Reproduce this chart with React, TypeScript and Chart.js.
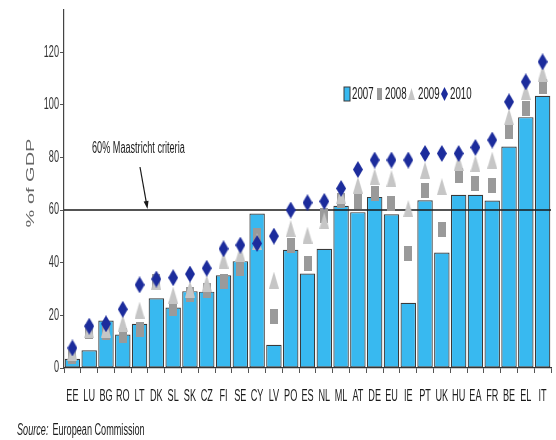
import React, { useEffect, useRef } from 'react';
import { Chart, registerables } from 'chart.js';

Chart.register(...registerables);

// Government gross debt, % of GDP, by member state
const categories = [
  'EE', 'LU', 'BG', 'RO', 'LT', 'DK', 'SL', 'SK', 'CZ', 'FI', 'SE', 'CY', 'LV', 'PO', 'ES',
  'NL', 'ML', 'AT', 'DE', 'EU', 'IE', 'PT', 'UK', 'HU', 'EA', 'FR', 'BE', 'EL', 'IT',
];
const debt2007 = [
  3.5, 6.7, 18, 12.7, 16.8, 26.5, 23, 29.2, 29, 35.2, 40.6, 58.7, 8.8, 44.9, 35.9,
  45.3, 61.6, 59.2, 65, 58.4, 24.8, 63.7, 43.9, 65.8, 65.8, 63.6, 84.1, 95.3, 103.4,
];
const debt2008 = [
  4.5, 13.7, 13.5, 12.3, 14.8, 32.8, 22.7, 28, 29.6, 32.8, 37.8, 50.5, 19.5, 46.7, 39.7,
  58, 63.5, 63.2, 66.3, 62.5, 43.5, 67.6, 52.8, 73.3, 70.1, 69.5, 89.7, 98.6, 106.8,
];
const debt2009 = [
  6, 14.5, 14.8, 17, 22, 33, 27.7, 30, 32.2, 41, 43.6, 48, 33.4, 53, 50.5,
  56, 65.5, 69.5, 72.7, 72, 60.6, 75.2, 68.9, 78, 77.7, 79, 95.4, 105, 111.9,
];
const debt2010 = [
  7.6, 15.9, 16.8, 22.3, 31.6, 33.8, 34.3, 35.7, 37.9, 45.3, 46.7, 47.3, 50.1, 60, 62.8,
  63.3, 68.2, 75.4, 79, 79, 79, 81.5, 81.5, 81.5, 83.8, 86.6, 101.1, 108.7, 116.3,
];
const seriesNames = ['2007', '2008', '2009', '2010'];
const maastrichtLimit = 60;
const yMin = 0;
const yMax = 136;
const yStep = 20;

const FONT = '"Liberation Sans", Arial, Helvetica, sans-serif';
const SQUEEZE = 0.57;
const BAR_BLUE = '#38b9f0';
const BAR_EDGE = '#3a3a3a';
const GREY_2008 = '#9a9a9a';
const GREY_2009 = '#c6c6c6';
const BLUE_2010 = '#1c2c9c';

type Shape = 'diamond' | 'triangle' | 'rect';

function makeMarker(shape: Shape, w: number, h: number, fill: string): HTMLCanvasElement {
  const c = document.createElement('canvas');
  c.width = w;
  c.height = h;
  const g = c.getContext('2d')!;
  g.fillStyle = fill;
  g.beginPath();
  if (shape === 'diamond') {
    g.moveTo(w / 2, 0);
    g.lineTo(w, h / 2);
    g.lineTo(w / 2, h);
    g.lineTo(0, h / 2);
  } else if (shape === 'triangle') {
    g.moveTo(w / 2, 0);
    g.lineTo(w, h);
    g.lineTo(0, h);
  } else {
    g.rect(0, 0, w, h);
  }
  g.closePath();
  g.fill();
  return c;
}

// Condensed text: a normal face squeezed horizontally
function squeezedText(
  ctx: CanvasRenderingContext2D,
  text: string,
  x: number,
  y: number,
  align: CanvasTextAlign,
  size = 16,
  color = '#1a1a1a',
  italic = false,
) {
  ctx.save();
  ctx.translate(x, y);
  ctx.scale(SQUEEZE, 1);
  ctx.font = `${italic ? 'italic ' : ''}${size}px ${FONT}`;
  ctx.fillStyle = color;
  ctx.textAlign = align;
  ctx.textBaseline = 'middle';
  ctx.fillText(text, 0, 0);
  const w = ctx.measureText(text).width * SQUEEZE;
  ctx.restore();
  return w;
}

const decorPlugin = {
  id: 'debtDecor',
  afterDatasetDraw(chart: any, args: any) {
    // Maastricht reference line sits over the bars but under the markers
    if (args.index !== 0) return;
    const { ctx, chartArea } = chart;
    const y = chart.scales.y.getPixelForValue(maastrichtLimit);
    ctx.save();
    ctx.strokeStyle = '#1a1a1a';
    ctx.lineWidth = 1.5;
    ctx.beginPath();
    ctx.moveTo(chartArea.left, y);
    ctx.lineTo(chartArea.right, y);
    ctx.stroke();
    ctx.restore();
  },
  afterDraw(chart: any) {
    const { ctx } = chart;
    const xs = chart.scales.x;
    const ys = chart.scales.y;

    // category labels
    const labels: string[] = chart.data.labels;
    labels.forEach((lab, i) => {
      squeezedText(ctx, lab, xs.getPixelForTick(i), 397, 'center', 16, '#1a1a1a');
    });

    // value labels
    ys.ticks.forEach((t: any) => {
      squeezedText(ctx, String(t.value), 59, ys.getPixelForValue(t.value), 'right', 16, '#333');
    });

    // axis title
    ctx.save();
    ctx.translate(31, 183);
    ctx.rotate(-Math.PI / 2);
    ctx.scale(1, SQUEEZE);
    ctx.font = `20px ${FONT}`;
    ctx.fillStyle = '#666';
    ctx.textAlign = 'center';
    ctx.textBaseline = 'middle';
    ctx.fillText('% of GDP', 0, 0);
    ctx.restore();

    // annotation with arrow
    squeezedText(ctx, '60% Maastricht criteria', 92, 149, 'left', 16, '#1a1a1a');
    const tipX = 147.5;
    const tipY = ys.getPixelForValue(maastrichtLimit) - 1;
    const fromX = 140;
    const fromY = 167;
    const ang = Math.atan2(tipY - fromY, tipX - fromX);
    ctx.save();
    ctx.strokeStyle = '#1a1a1a';
    ctx.fillStyle = '#1a1a1a';
    ctx.lineWidth = 1.2;
    ctx.beginPath();
    ctx.moveTo(fromX, fromY);
    ctx.lineTo(tipX - 6 * Math.cos(ang), tipY - 6 * Math.sin(ang));
    ctx.stroke();
    ctx.beginPath();
    ctx.moveTo(tipX, tipY);
    ctx.lineTo(tipX - 8 * Math.cos(ang) + 2.5 * Math.sin(ang), tipY - 8 * Math.sin(ang) - 2.5 * Math.cos(ang));
    ctx.lineTo(tipX - 8 * Math.cos(ang) - 2.5 * Math.sin(ang), tipY - 8 * Math.sin(ang) + 2.5 * Math.cos(ang));
    ctx.closePath();
    ctx.fill();
    ctx.restore();

    // legend
    const ly = 94;
    ctx.save();
    ctx.fillStyle = BAR_BLUE;
    ctx.strokeStyle = BAR_EDGE;
    ctx.lineWidth = 1;
    ctx.fillRect(344, ly - 7, 6, 14);
    ctx.strokeRect(344, ly - 7, 6, 14);
    ctx.restore();
    squeezedText(ctx, seriesNames[0], 352, ly, 'left', 17);
    ctx.drawImage(legendSquare, 377, ly - 6);
    squeezedText(ctx, seriesNames[1], 385, ly, 'left', 17);
    ctx.drawImage(legendTriangle, 408, ly - 6);
    squeezedText(ctx, seriesNames[2], 418, ly, 'left', 17);
    ctx.drawImage(legendDiamond, 441, ly - 7);
    squeezedText(ctx, seriesNames[3], 450, ly, 'left', 17);

    // source line
    const w = squeezedText(ctx, 'Source:', 17, 431, 'left', 16, '#1a1a1a', true);
    squeezedText(ctx, 'European Commission', 17 + w + 4, 431, 'left', 16, '#1a1a1a');
  },
};

const markerSquare = makeMarker('rect', 8, 15, GREY_2008);
const markerTriangle = makeMarker('triangle', 10, 17, GREY_2009);
const markerDiamond = makeMarker('diamond', 10, 17, BLUE_2010);
const legendSquare = makeMarker('rect', 5, 12, GREY_2008);
const legendTriangle = makeMarker('triangle', 7, 12, GREY_2009);
const legendDiamond = makeMarker('diamond', 7, 14, BLUE_2010);

export default function App() {
  const canvasRef = useRef<HTMLCanvasElement | null>(null);

  useEffect(() => {
    const canvas = canvasRef.current;
    if (!canvas) return;
    const markerSet = (label: string, data: number[], style: HTMLCanvasElement, order: number) => ({
      type: 'line' as const,
      label,
      data,
      showLine: false,
      pointStyle: style,
      pointRadius: 4,
      order,
    });
    const chart = new Chart(canvas, {
      type: 'bar',
      data: {
        labels: categories,
        datasets: [
          {
            type: 'bar',
            label: seriesNames[0],
            data: debt2007,
            backgroundColor: BAR_BLUE,
            borderColor: BAR_EDGE,
            borderWidth: 1.2,
            borderSkipped: false,
            barPercentage: 0.92,
            categoryPercentage: 1,
            order: 10,
          },
          markerSet(seriesNames[1], debt2008, markerSquare, 3),
          markerSet(seriesNames[2], debt2009, markerTriangle, 2),
          markerSet(seriesNames[3], debt2010, markerDiamond, 1),
        ] as any,
      },
      options: {
        responsive: false,
        maintainAspectRatio: false,
        animation: false,
        events: [],
        layout: { padding: { top: 10, left: 0, right: 0, bottom: 0 } },
        plugins: {
          legend: { display: false },
          tooltip: { enabled: false },
          title: { display: false },
        },
        scales: {
          x: {
            type: 'category',
            offset: true,
            grid: {
              offset: true,
              drawOnChartArea: false,
              drawTicks: true,
              tickLength: 5,
              color: '#555',
              lineWidth: 1,
            },
            border: { display: true, color: '#333', width: 1.3 },
            ticks: { display: false },
            afterFit: (s: any) => {
              s.height = 72;
            },
          },
          y: {
            type: 'linear',
            position: 'left',
            min: yMin,
            max: yMax,
            grid: {
              drawOnChartArea: false,
              drawTicks: true,
              tickLength: 4,
              color: '#555',
              lineWidth: 1,
            },
            border: { display: true, color: '#444', width: 1.2 },
            ticks: { display: false, stepSize: yStep, includeBounds: false },
            afterFit: (s: any) => {
              s.width = 64;
            },
          },
        },
      },
      plugins: [decorPlugin],
    });
    return () => chart.destroy();
  }, []);

  return (
    <div style={{ position: 'absolute', left: 0, top: 0, width: 556, height: 440, background: '#fff', overflow: 'hidden' }}>
      <canvas ref={canvasRef} width={556} height={440} style={{ display: 'block' }} />
    </div>
  );
}
